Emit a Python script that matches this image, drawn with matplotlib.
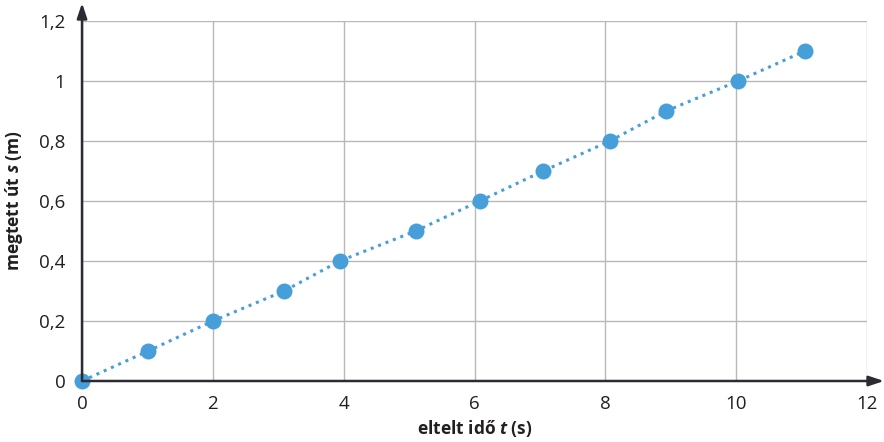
import matplotlib.pyplot as plt
import numpy as np

# === Data ===
time_s = [0, 1.01, 2.0, 3.09, 3.94, 5.1, 6.08, 7.05, 8.07, 8.93, 10.03, 11.05]
dist_m = [0, 0.1, 0.2, 0.3, 0.4, 0.5, 0.6, 0.7, 0.8, 0.9, 1.0, 1.1]
x_ticks = [0, 2, 4, 6, 8, 10, 12]
y_ticks = [0, 0.2, 0.4, 0.6, 0.8, 1.0, 1.2]
y_tick_labels = ['0', '0,2', '0,4', '0,6', '0,8', '1', '1,2']

plt.rcParams['font.family'] = ['Open Sans', 'DejaVu Sans']
plt.rcParams['mathtext.fontset'] = 'custom'
plt.rcParams['mathtext.rm'] = 'Open Sans'
plt.rcParams['mathtext.bf'] = 'Open Sans:bold'
plt.rcParams['mathtext.it'] = 'Open Sans:italic'
plt.rcParams['mathtext.bfit'] = 'Open Sans:italic:bold'

fig = plt.figure(figsize=(8.84, 4.42), dpi=100)
ax = fig.add_axes([0.0928, 0.138, 0.888, 0.8145])

blue = '#479fd9'
ax.plot(time_s, dist_m, linestyle=(0, (1, 1.6)), color=blue, linewidth=2.2,
        marker='o', markersize=11.5, markeredgewidth=0, zorder=3, clip_on=False)

ax.set_xlim(0, 12)
ax.set_ylim(0, 1.2)
ax.set_xticks(x_ticks)
ax.set_yticks(y_ticks)
ax.set_yticklabels(y_tick_labels)
ax.tick_params(length=0, labelsize=13.5, colors='#231f20')
ax.tick_params(axis='x', pad=10)
ax.tick_params(axis='y', pad=12)
ax.grid(True, color='#b8b8b8', linewidth=1)
ax.set_axisbelow(True)
for s in ax.spines.values():
    s.set_visible(False)

# axis arrows
ax.annotate('', xy=(1.0 + 17 / 785, 0), xytext=(0, 0), xycoords='axes fraction',
            arrowprops=dict(arrowstyle='-|>,head_length=0.9,head_width=0.3',
                            color='#2b2b33', lw=1.8, shrinkA=0, shrinkB=0),
            annotation_clip=False)
ax.annotate('', xy=(0, 1.0 + 18 / 360), xytext=(0, 0), xycoords='axes fraction',
            arrowprops=dict(arrowstyle='-|>,head_length=0.9,head_width=0.3',
                            color='#2b2b33', lw=1.8, shrinkA=0, shrinkB=0),
            annotation_clip=False)

ax.set_xlabel(r'eltelt idő $\mathbfit{t}$ (s)', fontsize=12.5, fontweight='bold', color='#231f20', labelpad=4)
ax.set_ylabel(r'megtett út $\mathbfit{s}$ (m)', fontsize=12.5, fontweight='bold', color='#231f20', labelpad=10)

fig.savefig('out.png', dpi=100)
